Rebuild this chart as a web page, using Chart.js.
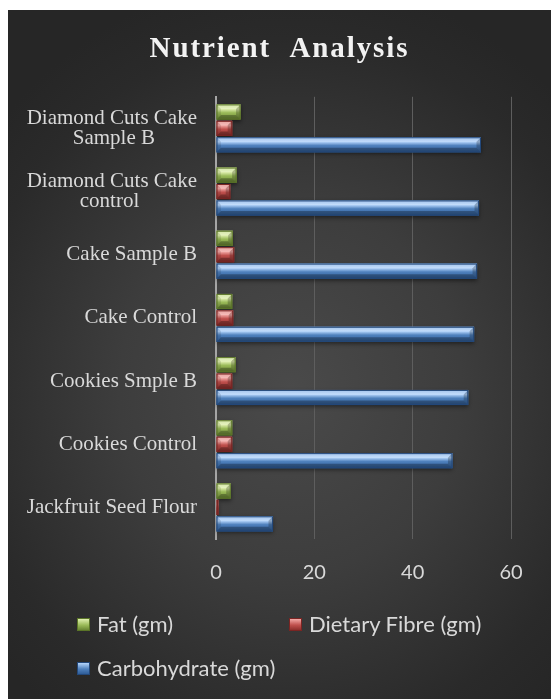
<!DOCTYPE html>
<html>
<head>
<meta charset="utf-8">
<script src="https://cdn.jsdelivr.net/npm/chart.js@4.4.1/dist/chart.umd.min.js"></script>
<style>
  body { margin: 0; background: #fff; }
  #panel {
    position: absolute; left: 8px; top: 10px; width: 543px; height: 689px;
    background: radial-gradient(ellipse 70% 60% at 52% 55%, #4a4a4a 0%, #3d3d3d 45%, #2a2a2a 85%, #262626 100%);
    overflow: hidden;
  }
  #chart { position: absolute; left: 0; top: 0; }
  #legend {
    position: absolute; left: 69px; top: 602px;
    display: grid; grid-template-columns: 212px 212px; row-gap: 20px;
    font-family: Lato, "Open Sans", sans-serif; font-size: 22px; color: #d9d9d9;
  }
  .item { display: flex; align-items: center; height: 24px; line-height: 24px; white-space: nowrap; }
  .box { width: 13px; height: 13px; margin-right: 7px; box-sizing: border-box; }
</style>
</head>
<body>
<div id="panel">
  <canvas id="chart" width="543" height="689"></canvas>
  <div id="legend"></div>
</div>
<script>
// categories listed top to bottom as they appear
let categories = [
    ['Diamond Cuts Cake', 'Sample B'],
    ['Diamond Cuts Cake', 'control'],
    'Cake Sample B',
    'Cake Control',
    'Cookies Smple B',
    'Cookies Control',
    'Jackfruit Seed Flour'
];
let fat = [5.0, 4.2, 3.4, 3.3, 4.0, 3.3, 3.0];
let fibre = [3.3, 2.9, 3.7, 3.5, 3.3, 3.3, 0.5];
let carbs = [53.9, 53.5, 53.1, 52.5, 51.3, 48.1, 11.6];
let seriesNames = ['Fat (gm)', 'Dietary Fibre (gm)', 'Carbohydrate (gm)'];
let xTicks = [0, 20, 40, 60];

// base, light, highlight, dark
let palettes = [
    { base: '#9bbb59', light: '#c6dc8e', hi: '#e0efb0', dark: '#6a8733', line: '#5b7528' },
    { base: '#c0504d', light: '#e08a87', hi: '#f3aaa7', dark: '#8e2f2c', line: '#7a2523' },
    { base: '#4f81bd', light: '#86b1e6', hi: '#b5d5fb', dark: '#2f5d98', line: '#23487a' }
];

let labelFont = '21px "Liberation Serif", "Times New Roman", serif';
let measureCtx = document.createElement('canvas').getContext('2d');

// pad shorter lines so wrapped labels look centred under the longest line
function centerLines(lbl) {
    if (!Array.isArray(lbl)) return lbl;
    measureCtx.font = labelFont;
    let widths = lbl.map(s => measureCtx.measureText(s).width);
    let widest = Math.max.apply(null, widths);
    let sp = measureCtx.measureText(' ').width;
    return lbl.map((s, i) => s + ' '.repeat(Math.round((widest - widths[i]) / 2 / sp)));
}

function barShape(ctx, l, r, t, b, pal) {
    let w = r - l, h = b - t;
    if (w <= 0) return;
    let bv = Math.min(h * 0.3, w / 2, 5);
    ctx.save();
    ctx.shadowColor = 'rgba(0,0,0,0.45)';
    ctx.shadowBlur = 4;
    ctx.shadowOffsetY = 2;
    let g = ctx.createLinearGradient(0, t, 0, b);
    g.addColorStop(0, pal.light);
    g.addColorStop(0.3, pal.hi);
    g.addColorStop(0.55, pal.base);
    g.addColorStop(1, pal.dark);
    ctx.fillStyle = g;
    ctx.fillRect(l, t, w, h);
    ctx.restore();

    ctx.save();
    // top bevel
    ctx.fillStyle = 'rgba(255,255,255,0.22)';
    ctx.beginPath();
    ctx.moveTo(l, t); ctx.lineTo(r, t); ctx.lineTo(r - bv, t + bv); ctx.lineTo(l + bv, t + bv);
    ctx.closePath(); ctx.fill();
    // bottom bevel
    ctx.fillStyle = 'rgba(0,0,0,0.28)';
    ctx.beginPath();
    ctx.moveTo(l, b); ctx.lineTo(r, b); ctx.lineTo(r - bv, b - bv); ctx.lineTo(l + bv, b - bv);
    ctx.closePath(); ctx.fill();
    // right end
    ctx.fillStyle = 'rgba(0,0,0,0.22)';
    ctx.beginPath();
    ctx.moveTo(r, t); ctx.lineTo(r, b); ctx.lineTo(r - bv, b - bv); ctx.lineTo(r - bv, t + bv);
    ctx.closePath(); ctx.fill();
    // left end
    ctx.fillStyle = 'rgba(0,0,0,0.1)';
    ctx.beginPath();
    ctx.moveTo(l, t); ctx.lineTo(l, b); ctx.lineTo(l + bv, b - bv); ctx.lineTo(l + bv, t + bv);
    ctx.closePath(); ctx.fill();
    ctx.strokeStyle = pal.line;
    ctx.lineWidth = 1;
    ctx.strokeRect(l + 0.5, t + 0.5, w - 1, h - 1);
    ctx.restore();
}

let bevelBars = {
    id: 'bevelBars',
    afterDatasetsDraw(chart) {
        let ctx = chart.ctx;
        chart.data.datasets.forEach((ds, di) => {
            let meta = chart.getDatasetMeta(di);
            meta.data.forEach(bar => {
                let p = bar.getProps(['x', 'y', 'base', 'height'], true);
                barShape(ctx, Math.min(p.x, p.base), Math.max(p.x, p.base),
                    p.y - p.height / 2, p.y + p.height / 2, palettes[di]);
            });
        });
    }
};

// spaced-out title letters only; tick labels are drawn later (ticks.z = 1)
let titleSpacing = {
    id: 'titleSpacing',
    afterLayout(chart) {
        // centre the title over the whole panel, not over the padded area
        let tb = chart.titleBlock;
        if (tb) { tb.left = 0; tb.right = chart.width; tb.width = chart.width; }
    },
    beforeDraw(chart) { chart.ctx.letterSpacing = '1.9px'; },
    beforeDatasetsDraw(chart) { chart.ctx.letterSpacing = '0px'; },
    afterDraw(chart) { chart.ctx.letterSpacing = '0px'; }
};

let ctx = document.getElementById('chart').getContext('2d');
let chart = new Chart(ctx, {
    type: 'bar',
    data: {
        labels: categories,
        datasets: [
            { label: seriesNames[0], data: fat, backgroundColor: palettes[0].base },
            { label: seriesNames[1], data: fibre, backgroundColor: palettes[1].base },
            { label: seriesNames[2], data: carbs, backgroundColor: palettes[2].base }
        ]
    },
    options: {
        indexAxis: 'y',
        responsive: false,
        animation: false,
        datasets: { bar: { categoryPercentage: 0.78, barPercentage: 0.92 } },
        layout: { padding: { left: 0, right: 40, top: 0, bottom: 92 } },
        plugins: {
            legend: { display: false },
            tooltip: { enabled: false },
            title: {
                display: true,
                text: 'Nutrient  Analysis',
                color: '#f2f2f2',
                font: { family: '"Liberation Serif", "Times New Roman", serif', size: 29, weight: 'bold' },
                padding: { top: 22, bottom: 30 }
            }
        },
        scales: {
            x: {
                min: 0, max: 60,
                afterBuildTicks: function (scale) {
                    scale.ticks = xTicks.map(v => ({ value: v }));
                },
                grid: { color: '#5e5e5e', lineWidth: 1, drawTicks: false },
                border: { display: false },
                ticks: {
                    z: 1,
                    color: '#d9d9d9',
                    padding: 22,
                    font: { family: 'Lato, "Open Sans", sans-serif', size: 20 }
                }
            },
            y: {
                afterFit: function (scale) { scale.width = 208; },
                grid: { display: false, drawTicks: false },
                border: { display: true, color: '#a6a6a6', width: 2 },
                ticks: {
                    z: 1,
                    color: '#d9d9d9',
                    padding: 19,
                    autoSkip: false,
                    font: { family: '"Liberation Serif", "Times New Roman", serif', size: 21, lineHeight: 0.97 },
                    callback: function (value, index) { return centerLines(categories[index]); }
                }
            }
        }
    },
    plugins: [titleSpacing, bevelBars]
});

// legend in two columns, like the original
let legend = document.getElementById('legend');
seriesNames.forEach((name, i) => {
    let pal = palettes[i];
    let item = document.createElement('div');
    item.className = 'item';
    let box = document.createElement('span');
    box.className = 'box';
    box.style.background = 'linear-gradient(' + pal.hi + ', ' + pal.base + ' 55%, ' + pal.dark + ')';
    box.style.border = '1px solid ' + pal.line;
    item.appendChild(box);
    item.appendChild(document.createTextNode(name));
    legend.appendChild(item);
});
</script>
</body>
</html>
